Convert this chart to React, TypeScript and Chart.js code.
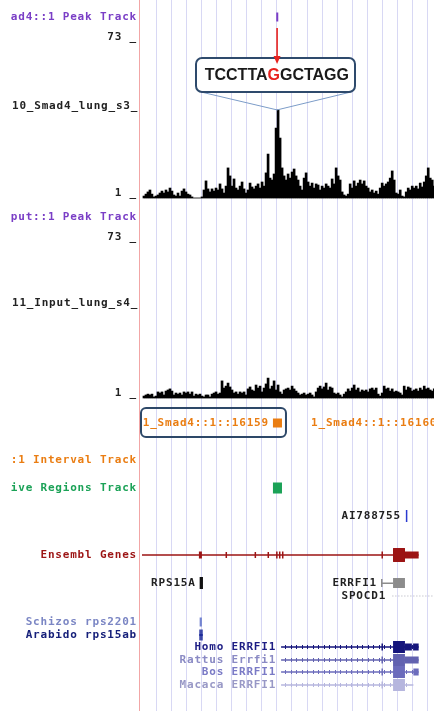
import React, { useEffect, useRef } from "react";
import { Chart, registerables } from "chart.js";
Chart.register(...registerables);

const W = 434;
const H = 711;

// ---------- data (genomic position in kb, relative) ----------
const BIN_START_KB = -0.8;
const BIN_STEP_KB = 0.133;

const SMAD4_SIGNAL = [
  0.9, 1.8, 2.8, 3.7, 1.8, 0.5, 0.9, 1.4, 2.3, 3.2,
  2.3, 3.7, 2.8, 4.6, 3.2, 1.4, 0.9, 2.3, 0.9, 3.2,
  4.2, 2.8, 1.8, 1.4, 0.5, 0, 0, 0, 0, 0.5,
  3.7, 7.9, 4.2, 2.8, 4.2, 3.2, 4.6, 3.7, 6.5, 4.2,
  2.3, 5.5, 13.9, 10.2, 5.5, 8.8, 4.6, 3.7, 5.5, 7.4,
  4.2, 2.3, 3.7, 6.9, 5.1, 4.2, 5.5, 6.5, 4.6, 7.4,
  5.5, 11.6, 20.3, 9.2, 8.3, 11.1, 32.3, 40.7, 27.7, 13.9,
  10.2, 8.3, 11.1, 9.2, 12.0, 13.4, 10.2, 8.3, 5.5, 3.7,
  9.2, 11.6, 7.4, 5.5, 6.9, 4.6, 6.5, 6.0, 3.7, 5.5,
  4.6, 6.5, 5.5, 4.6, 8.8, 6.5, 13.9, 10.2, 8.3, 2.8,
  1.4, 0.9, 1.8, 6.5, 4.6, 7.9, 5.5, 6.9, 8.3, 6.5,
  7.9, 5.5, 4.6, 2.8, 3.7, 2.3, 3.2, 1.8, 4.6, 6.9,
  5.5, 6.5, 7.4, 9.2, 12.5, 8.3, 2.3, 1.8, 3.7, 0.9,
  0.5, 2.8, 4.6, 3.7, 5.5, 4.6, 5.5, 4.2, 6.9, 5.1,
  7.4, 10.2, 13.9, 9.2, 8.3, 5.5,
];

const INPUT_SIGNAL = [
  0.9, 1.4, 1.8, 1.4, 1.8, 0.5, 0.9, 2.8, 2.3, 2.8,
  1.4, 3.2, 3.7, 4.2, 3.2, 1.4, 2.3, 1.8, 2.3, 1.4,
  2.8, 2.3, 2.8, 1.8, 2.8, 0.9, 1.8, 1.4, 1.8, 0.9,
  0.5, 1.4, 1.4, 0.5, 1.8, 2.3, 2.8, 1.8, 2.3, 7.9,
  4.6, 5.5, 6.9, 5.1, 3.7, 2.3, 2.8, 1.8, 2.8, 2.3,
  2.8, 1.4, 4.2, 5.1, 3.7, 3.2, 6.0, 4.6, 5.5, 2.8,
  4.6, 6.5, 9.2, 4.2, 5.5, 7.9, 3.7, 6.0, 2.8, 1.8,
  3.7, 4.2, 4.6, 3.7, 5.5, 4.2, 3.2, 2.3, 1.4, 1.8,
  2.3, 1.4, 1.8, 2.3, 1.4, 0.5, 2.8, 4.6, 5.5, 4.2,
  5.1, 6.9, 3.7, 5.1, 4.6, 2.3, 1.8, 2.3, 1.4, 0.5,
  1.8, 2.8, 4.2, 3.2, 4.6, 6.0, 3.7, 4.6, 2.8, 3.7,
  3.2, 3.7, 2.8, 4.2, 4.6, 3.7, 4.6, 1.8, 0.9, 2.3,
  5.5, 4.2, 4.6, 3.2, 4.2, 2.8, 3.2, 2.8, 2.3, 1.4,
  5.5, 3.7, 5.1, 4.6, 3.2, 3.7, 4.2, 3.2, 4.6, 3.7,
  5.5, 4.2, 4.6, 3.7, 3.2, 4.2,
];

const SIGNAL_TICKS = [73, 1];
const GRID_KB = [0, 1, 2, 3, 4, 5, 6, 7, 8, 9, 10, 11, 12, 13, 14, 15, 16, 17, 18];

const MOTIF_PREFIX = "TCCTTA";
const MOTIF_SNP = "G";
const MOTIF_SUFFIX = "GCTAGG";

const SMAD4_PEAKS = [{ start: 7.99, end: 8.08 }];
const INTERVALS = [
  { name: "1_Smad4::1::16159", start: 7.77, end: 8.37 },
  { name: "1_Smad4::1::16160", start: 18.95, end: 19.55 },
];
const ENRICHED_REGIONS = [{ start: 7.77, end: 8.37 }];
const EST_FEATURES = [{ name: "AI788755", start: 16.6, end: 16.67 }];

type Exon = [number, number, "thick" | "thin" | "tick"];
const ENSEMBL_GENE = { start: -0.93, end: 17.45 };
const ENSEMBL_EXONS: Exon[] = [
  [2.85, 3.05, "thin"], [4.62, 4.69, "tick"], [6.55, 6.62, "tick"], [7.41, 7.48, "tick"],
  [7.98, 8.06, "thin"], [8.17, 8.25, "thin"], [8.37, 8.47, "thin"],
  [14.98, 15.05, "thin"], [15.75, 16.54, "thick"], [16.54, 17.45, "thin"],
];
const RPS15A = { name: "RPS15A", start: 2.9, end: 3.12 };
const ERRFI1 = { name: "ERRFI1", start: 14.95, end: 16.54, cds: 15.75 };
const SPOCD1 = { name: "SPOCD1", start: 15.55, end: 19.0 };
const XENO_SMALL = [
  { name: "Schizos rps2201", start: 2.9, end: 3.05 },
  { name: "Arabido rps15ab", start: 2.88, end: 3.1 },
];
const XENO_ERRFI1 = [
  { name: "Homo ERRFI1", start: 8.31, end: 17.45, exons: [[14.98, 15.05, "thin"], [15.75, 16.54, "thick"], [16.54, 17.0, "thin"], [17.08, 17.45, "thin"]] as Exon[] },
  { name: "Rattus Errfi1", start: 8.31, end: 17.45, exons: [[14.98, 15.05, "thin"], [15.75, 16.54, "thick"], [16.54, 17.45, "thin"]] as Exon[] },
  { name: "Bos ERRFI1", start: 8.31, end: 17.45, exons: [[14.98, 15.05, "thin"], [15.75, 16.54, "thick"], [17.1, 17.45, "thin"]] as Exon[] },
  { name: "Macaca ERRFI1", start: 8.31, end: 17.1, exons: [[14.98, 15.05, "thin"], [15.75, 16.54, "thick"]] as Exon[] },
];

// ---------- layout & style ----------
const ROW = {
  smadPeak: 17, smadLabel: 106, inputPeak: 217, inputLabel: 303,
  interval: 423, intervalLabel: 460, regions: 488, est: 516, ensembl: 555,
  rps: 583, spocd: 596, schizos: 622, arabido: 635, homo: 647, rattus: 660, bos: 672, macaca: 685,
};
const XENO_ROWS = [ROW.homo, ROW.rattus, ROW.bos, ROW.macaca];
const XENO_COLORS = ["#15157c", "#6262b0", "#6c6cbc", "#b6b6de"];
const XENO_LABEL_COLORS = ["#1c1c84", "#8a8ac4", "#7a7ac6", "#9898c6"];
const HALF = { thick: 6, thin: 3.5, tick: 3 };
const FONT = 'bold 11px "DejaVu Sans Mono", monospace';
const PURPLE = "#7a3ec6";
const ORANGE = "#ea7d12";
const GREEN = "#1ba257";
const DARKRED = "#9c1414";

function text(ctx: CanvasRenderingContext2D, s: string, x: number, y: number, color: string, align: CanvasTextAlign = "left") {
  ctx.save();
  ctx.font = FONT;
  (ctx as any).letterSpacing = "0.8px";
  ctx.fillStyle = color;
  ctx.textAlign = align;
  ctx.textBaseline = "middle";
  ctx.fillText(s, x, y);
  ctx.restore();
}

const trackPlugin = {
  id: "tracks",
  beforeDatasetsDraw(chart: any) {
    const ctx: CanvasRenderingContext2D = chart.ctx;
    const xs = chart.scales.x;
    ctx.save();
    ctx.fillStyle = "#d8d8f4";
    for (const k of GRID_KB) ctx.fillRect(Math.round(xs.getPixelForValue(k)), 0, 1, H);
    ctx.fillStyle = "#f2a6a6";
    ctx.fillRect(chart.chartArea.left - 1, 0, 1, H);
    ctx.restore();
  },
  afterDatasetsDraw(chart: any) {
    const ctx: CanvasRenderingContext2D = chart.ctx;
    const xs = chart.scales.x;
    const ys = chart.scales.ySig;
    const yi = chart.scales.yIn;
    const yr = chart.scales.yRow;
    const px = (v: number) => xs.getPixelForValue(v);
    const py = (r: number) => yr.getPixelForValue(r);
    const labelRight = chart.chartArea.left - 3;

    // ---- left labels (clipped) ----
    ctx.save();
    ctx.beginPath();
    ctx.rect(0, 0, chart.chartArea.left - 1, H);
    ctx.clip();
    text(ctx, "ad4::1 Peak Track", labelRight, py(ROW.smadPeak), PURPLE, "right");
    text(ctx, "10_Smad4_lung_s3_c", 12, py(ROW.smadLabel), "#222");
    text(ctx, "put::1 Peak Track", labelRight, py(ROW.inputPeak), PURPLE, "right");
    text(ctx, "11_Input_lung_s4_c", 12, py(ROW.inputLabel), "#222");
    for (const t of SIGNAL_TICKS) {
      text(ctx, `${t} _`, labelRight, ys.getPixelForValue(t) - 3, "#222", "right");
      text(ctx, `${t} _`, labelRight, yi.getPixelForValue(t) - 3, "#222", "right");
    }
    text(ctx, ":1 Interval Track", labelRight, py(ROW.intervalLabel), ORANGE, "right");
    text(ctx, "ive Regions Track", labelRight, py(ROW.regions), GREEN, "right");
    text(ctx, "Ensembl Genes", labelRight, py(ROW.ensembl), DARKRED, "right");
    text(ctx, XENO_SMALL[0].name, labelRight, py(ROW.schizos), "#7b86c4", "right");
    text(ctx, XENO_SMALL[1].name, labelRight, py(ROW.arabido), "#16207a", "right");
    ctx.restore();

    // ---- peak track ----
    ctx.fillStyle = PURPLE;
    for (const p of SMAD4_PEAKS) ctx.fillRect(px(p.start), py(ROW.smadPeak) - 4.5, Math.max(2, px(p.end) - px(p.start)), 9);

    // ---- intervals ----
    for (const f of INTERVALS) {
      const x1 = px(f.start), x2 = px(f.end);
      ctx.fillStyle = ORANGE;
      ctx.fillRect(x1, py(ROW.interval) - 4.5, x2 - x1, 9);
      text(ctx, f.name, x1 - 4, py(ROW.interval), ORANGE, "right");
    }
    // highlight box around first interval
    ctx.save();
    ctx.strokeStyle = "#2d4868";
    ctx.lineWidth = 2;
    ctx.beginPath();
    (ctx as any).roundRect(141, py(ROW.interval) - 15, px(INTERVALS[0].end) + 4 - 141, 29, 5);
    ctx.stroke();
    ctx.restore();

    // ---- enriched regions ----
    ctx.fillStyle = GREEN;
    for (const f of ENRICHED_REGIONS) ctx.fillRect(px(f.start), py(ROW.regions) - 5.5, px(f.end) - px(f.start), 11);

    // ---- EST ----
    for (const f of EST_FEATURES) {
      ctx.fillStyle = "#2a3ad0";
      ctx.fillRect(px(f.start), py(ROW.est) - 6, Math.max(1.5, px(f.end) - px(f.start)), 12);
      text(ctx, f.name, px(f.start) - 5, py(ROW.est), "#222", "right");
    }

    // ---- gene helper ----
    const drawGene = (start: number, end: number, exons: Exon[], y: number, color: string, chevrons: boolean) => {
      const x1 = px(start), x2 = px(end);
      ctx.fillStyle = color;
      ctx.fillRect(x1, y - 0.75, x2 - x1, 1.5);
      if (chevrons) for (let x = x1 + 4; x < x2 - 3; x += 5.5) ctx.fillRect(Math.round(x), y - 2, 1, 4);
      for (const [s, e, kind] of exons) {
        const h = HALF[kind];
        ctx.fillRect(px(s), y - h, Math.max(1.5, px(e) - px(s)), h * 2);
      }
    };

    // ---- Ensembl ----
    drawGene(ENSEMBL_GENE.start, ENSEMBL_GENE.end, ENSEMBL_EXONS, py(ROW.ensembl), DARKRED, false);
    ctx.fillStyle = DARKRED;
    for (const [s, e, k] of ENSEMBL_EXONS) if (k === "thick") ctx.fillRect(px(s), py(ROW.ensembl) - 7, px(e) - px(s), 14);

    // ---- known genes ----
    ctx.fillStyle = "#111";
    ctx.fillRect(px(RPS15A.start), py(ROW.rps) - 6, px(RPS15A.end) - px(RPS15A.start), 12);
    text(ctx, RPS15A.name, px(RPS15A.start) - 4, py(ROW.rps), "#222", "right");
    ctx.fillStyle = "#8c8c8c";
    ctx.fillRect(px(ERRFI1.start), py(ROW.rps) - 4, 1.5, 8);
    ctx.fillRect(px(ERRFI1.start), py(ROW.rps) - 0.5, px(ERRFI1.cds) - px(ERRFI1.start), 1.5);
    ctx.fillRect(px(ERRFI1.cds), py(ROW.rps) - 5, px(ERRFI1.end) - px(ERRFI1.cds), 10);
    text(ctx, ERRFI1.name, px(ERRFI1.start) - 4, py(ROW.rps), "#222", "right");
    ctx.fillStyle = "#c8c8d0";
    for (let x = px(SPOCD1.start) + 2; x < px(SPOCD1.end); x += 3) ctx.fillRect(x, py(ROW.spocd) - 0.5, 1.5, 1);
    text(ctx, SPOCD1.name, px(SPOCD1.start) - 4, py(ROW.spocd), "#222", "right");

    // ---- xeno mRNAs ----
    ctx.fillStyle = "#7484d0";
    ctx.fillRect(px(XENO_SMALL[0].start), py(ROW.schizos) - 4.5, px(XENO_SMALL[0].end) - px(XENO_SMALL[0].start), 9);
    ctx.fillStyle = "#1e2c9a";
    const ax1 = px(XENO_SMALL[1].start), ax2 = px(XENO_SMALL[1].end);
    ctx.fillRect(ax1, py(ROW.arabido) - 5.5, 1.5, 11);
    ctx.fillRect(ax2 - 1.5, py(ROW.arabido) - 5.5, 1.5, 11);
    ctx.fillRect(ax1, py(ROW.arabido) - 1, ax2 - ax1, 2);
    XENO_ERRFI1.forEach((g, i) => {
      drawGene(g.start, g.end, g.exons, py(XENO_ROWS[i]), XENO_COLORS[i], true);
      text(ctx, g.name, px(g.start) - 5, py(XENO_ROWS[i]), XENO_LABEL_COLORS[i], "right");
    });

    // ---- callout: motif with SNP ----
    let peakIdx = 0;
    SMAD4_SIGNAL.forEach((v, i) => { if (v > SMAD4_SIGNAL[peakIdx]) peakIdx = i; });
    const peakX = px(BIN_START_KB + peakIdx * BIN_STEP_KB) - 1;
    const peakY = ys.getPixelForValue(SMAD4_SIGNAL[peakIdx]);
    const bx = 196, by = 58, bw = 159, bh = 34;
    ctx.save();
    ctx.strokeStyle = "#7c9cc8";
    ctx.lineWidth = 1;
    ctx.beginPath();
    ctx.moveTo(bx + 5, by + bh);
    ctx.lineTo(peakX, peakY);
    ctx.lineTo(bx + bw - 4, by + bh);
    ctx.stroke();
    ctx.fillStyle = "#fff";
    ctx.strokeStyle = "#2e4a6c";
    ctx.lineWidth = 2;
    ctx.beginPath();
    (ctx as any).roundRect(bx, by, bw, bh, 6);
    ctx.fill();
    ctx.stroke();
    ctx.font = 'bold 16px "Liberation Sans", Arial, sans-serif';
    ctx.textBaseline = "middle";
    ctx.textAlign = "left";
    const wPre = ctx.measureText(MOTIF_PREFIX).width;
    const wSnp = ctx.measureText(MOTIF_SNP).width;
    const wSuf = ctx.measureText(MOTIF_SUFFIX).width;
    const total = wPre + wSnp + wSuf;
    const tx = Math.min(peakX - wPre - wSnp / 2, bx + bw - 6 - total);
    const ty = by + bh / 2 + 1;
    ctx.fillStyle = "#1a1a1a";
    ctx.fillText(MOTIF_PREFIX, tx, ty);
    ctx.fillStyle = "#e8221e";
    ctx.fillText(MOTIF_SNP, tx + wPre, ty);
    ctx.fillStyle = "#1a1a1a";
    ctx.fillText(MOTIF_SUFFIX, tx + wPre + wSnp, ty);
    // arrow
    ctx.strokeStyle = "#e8221e";
    ctx.fillStyle = "#e8221e";
    ctx.lineWidth = 1.6;
    ctx.beginPath();
    ctx.moveTo(peakX, 28);
    ctx.lineTo(peakX, 57);
    ctx.stroke();
    ctx.beginPath();
    ctx.moveTo(peakX - 3.5, 56);
    ctx.lineTo(peakX + 3.5, 56);
    ctx.lineTo(peakX, 64);
    ctx.closePath();
    ctx.fill();
    ctx.restore();
  },
};

export default function App() {
  const ref = useRef<HTMLCanvasElement | null>(null);
  useEffect(() => {
    if (!ref.current) return;
    const pos = SMAD4_SIGNAL.map((_, i) => BIN_START_KB + i * BIN_STEP_KB);
    // y mapping: signal 0 at row 198, 73 at row 40 (Smad4); 0 at 398, 73 at 240 (input)
    const ppu = (198 - 40) / 73;
    const chart = new Chart(ref.current, {
      type: "bar",
      data: {
        datasets: [
          {
            label: "10_Smad4_lung_s3",
            data: SMAD4_SIGNAL.map((v, i) => ({ x: pos[i], y: v })),
            backgroundColor: "#000",
            yAxisID: "ySig",
            grouped: false,
            barPercentage: 1,
            categoryPercentage: 1,
          },
          {
            label: "11_Input_lung_s4",
            data: INPUT_SIGNAL.map((v, i) => ({ x: pos[i], y: v })),
            backgroundColor: "#000",
            yAxisID: "yIn",
            grouped: false,
            barPercentage: 1,
            categoryPercentage: 1,
          },
        ],
      },
      options: {
        animation: false,
        responsive: false,
        layout: { padding: { left: 140, right: 0, top: 0, bottom: 0 } },
        plugins: { legend: { display: false }, tooltip: { enabled: false } },
        scales: {
          x: { type: "linear", min: -1.063, max: 18.47, offset: false, display: false },
          ySig: { type: "linear", display: false, min: -(H - 198) / ppu, max: 73 + 40 / ppu },
          yIn: { type: "linear", display: false, min: -(H - 398) / ppu, max: 73 + 240 / ppu },
          yRow: { type: "linear", display: false, min: 0, max: H, reverse: true },
        },
      } as any,
      plugins: [trackPlugin],
    });
    return () => chart.destroy();
  }, []);
  return (
    <div style={{ position: "absolute", left: 0, top: 0, width: W, height: H, background: "#fff" }}>
      <canvas ref={ref} width={W} height={H} style={{ display: "block" }} />
    </div>
  );
}
